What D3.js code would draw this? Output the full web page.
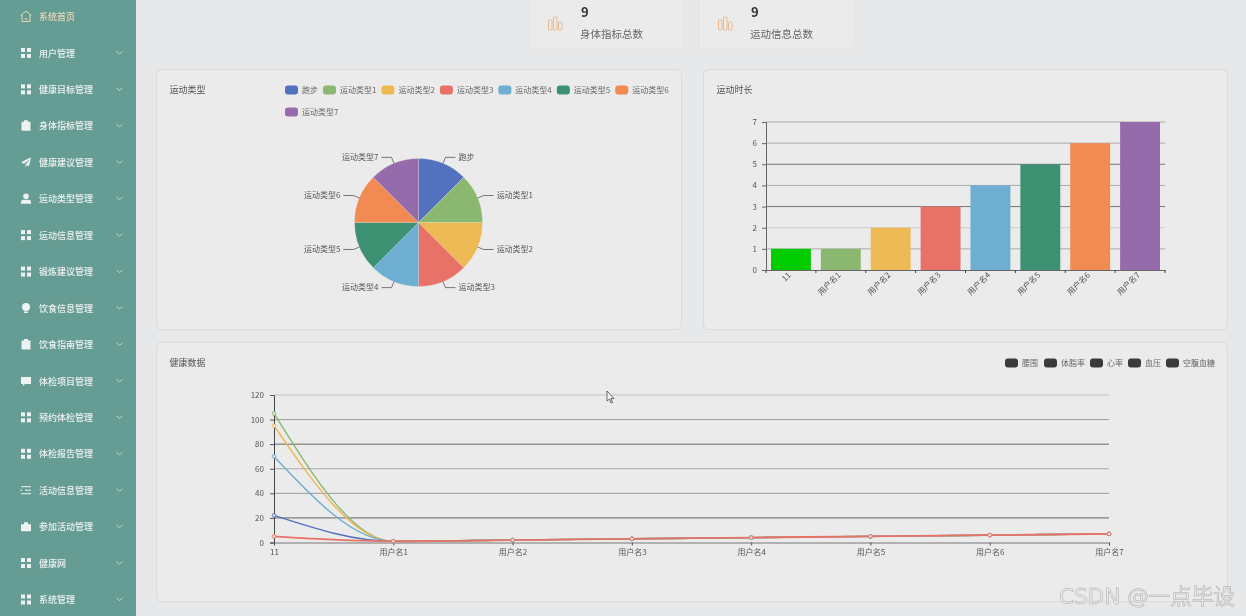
<!DOCTYPE html>
<html>
<head>
<meta charset="utf-8">
<script src="https://cdn.jsdelivr.net/npm/d3@7"></script>
<style>
  html, body { margin: 0; padding: 0; background: #e7e8ea; overflow: hidden; }
  svg { display: block; font-family: "Noto Sans CJK SC", "Noto Sans", sans-serif; filter: blur(0.4px); }
</style>
</head>
<body>
<div id="chart"></div>
<script>
// sidebar
const menuItems = ["系统首页","用户管理","健康目标管理","身体指标管理","健康建议管理","运动类型管理","运动信息管理","锻炼建议管理","饮食信息管理","饮食指南管理","体检项目管理","预约体检管理","体检报告管理","活动信息管理","参加活动管理","健康网","系统管理"];
const menuIcons = ["home","grid","grid","clip","plane","user","grid","grid","bulb","clip","chat","grid","grid","list","case","grid","grid"];

// stat cards
const statLabels = ["身体指标总数","运动信息总数"];
const statValues = [9, 9];

// pie
const pieNames = ["跑步","运动类型1","运动类型2","运动类型3","运动类型4","运动类型5","运动类型6","运动类型7"];
const pieValues = [1,1,1,1,1,1,1,1];
const palette = ["#5272bf","#8bb871","#edb955","#e87268","#6daed1","#3b9171","#f28a53","#966bab"];

// bar
const barNames = ["11","用户名1","用户名2","用户名3","用户名4","用户名5","用户名6","用户名7"];
const barValues = [1,1,2,3,4,5,6,7];
const barColors = ["#00cc00"].concat(palette.slice(1));
const barTicks = [0,1,2,3,4,5,6,7];

// line
const lineLegend = ["腰围","体脂率","心率","血压","空腹血糖"];
const waist = [22,1,2,3,4,5,6,7];
const bodyFat = [105,1,2,3,4,5,6,7];
const heartRate = [95,1,2,3,4,5,6,7];
const bloodPressure = [5,1,2,3,4,5,6,7];
const fastingGlucose = [70,1,2,3,4,5,6,7];
const lineTicks = [0,20,40,60,80,100,120];

const W = 1246, H = 616;
const svg = d3.select("#chart").append("svg").attr("width", W).attr("height", H);
svg.append("rect").attr("width", W).attr("height", H).attr("fill", "#e7e8ea");

const cardFill = "#ebebeb", cardLine = "#d9dadb", textCol = "#555";

// ---- sidebar ----
const side = svg.append("g");
side.append("rect").attr("width", 136).attr("height", H).attr("fill", "#659c94");
const menuY = d3.scalePoint().domain(menuItems).range([16.5, 599.5]);

function drawIcon(g, kind, col) {
  if (kind === "grid") {
    [[-5,-5],[1,-5],[-5,1],[1,1]].forEach(p => g.append("rect").attr("x", p[0]).attr("y", p[1]).attr("width", 4).attr("height", 4).attr("fill", col));
  } else if (kind === "home") {
    g.append("path").attr("d", "M-5.5,-1 L0,-5.5 L5.5,-1 M-4,-2 V5 H4 V-2 M-1.5,2.5 H1.5").attr("fill", "none").attr("stroke", col).attr("stroke-width", 1);
  } else if (kind === "clip") {
    g.append("path").attr("d", "M-4.5,-4 H-2 V-5.5 H2 V-4 H4.5 V5 H-4.5 Z").attr("fill", col);
  } else if (kind === "plane") {
    g.append("path").attr("d", "M5,-5 L-5,0 L-2,1.5 L4,-3 L-0.5,2.5 L-0.5,5 L1,3 L3,4 Z").attr("fill", col);
  } else if (kind === "user") {
    g.append("circle").attr("cy", -2.5).attr("r", 2.8).attr("fill", col);
    g.append("path").attr("d", "M-5,5 V3 Q-5,1 -2,1 H2 Q5,1 5,3 V5 Z").attr("fill", col);
  } else if (kind === "bulb") {
    g.append("circle").attr("cy", -1).attr("r", 4).attr("fill", col);
    g.append("rect").attr("x", -2).attr("y", 3.5).attr("width", 4).attr("height", 1.5).attr("fill", col);
  } else if (kind === "chat") {
    g.append("path").attr("d", "M-5,-4 H5 V3 H-1 L-3,5 V3 H-5 Z").attr("fill", col);
  } else if (kind === "list") {
    g.append("path").attr("d", "M-5,-3.5 H5 M-1,0 H5 M-5,3.5 H5 M-5,-1 V1").attr("fill", "none").attr("stroke", col).attr("stroke-width", 1);
  } else if (kind === "case") {
    g.append("path").attr("d", "M-5,-2.5 H-2 V-4.5 H2 V-2.5 H5 V4.5 H-5 Z").attr("fill", col);
  }
}

menuItems.forEach((name, i) => {
  const y = menuY(name);
  const col = i === 0 ? "#e9d8b4" : "#eef2f0";
  const g = side.append("g").attr("transform", `translate(26,${y})`);
  drawIcon(g, menuIcons[i], col);
  side.append("text").attr("x", 39).attr("y", y + 0.5).attr("dy", "0.35em")
    .attr("font-size", 9).attr("font-weight", 500).attr("fill", col).text(name);
  if (i > 0) {
    side.append("path").attr("d", `M116.5,${y-1.5} L119.5,${y+1} L122.5,${y-1.5}`)
      .attr("fill", "none").attr("stroke", "#d5e4e0").attr("stroke-width", 0.8);
  }
});

// ---- stat cards ----
const statX = [529, 699];
statLabels.forEach((label, i) => {
  const x = statX[i];
  svg.append("rect").attr("x", x).attr("y", -6).attr("width", 155).attr("height", 55)
    .attr("rx", 2).attr("fill", cardFill).attr("stroke", "#e2e3e4");
  [[19.5,10],[24.5,13],[29.5,8]].forEach(b => {
    svg.append("rect").attr("x", x + b[0]).attr("y", 30 - b[1]).attr("width", 3.5).attr("height", b[1])
      .attr("rx", 1).attr("fill", "none").attr("stroke", "#e8b98e");
  });
  svg.append("text").attr("x", x + 52).attr("y", 12).attr("dy", "0.35em").attr("font-size", 13)
    .attr("font-weight", 700).attr("fill", "#333").text(statValues[i]);
  svg.append("text").attr("x", x + 51).attr("y", 34).attr("dy", "0.35em").attr("font-size", 10.5)
    .attr("fill", "#666").text(label);
});

// ---- cards ----
function card(x, y, w, h, title) {
  svg.append("rect").attr("x", x + 0.5).attr("y", y + 0.5).attr("width", w).attr("height", h)
    .attr("rx", 5).attr("fill", cardFill).attr("stroke", cardLine);
  svg.append("text").attr("x", x + 13.5).attr("y", y + 21).attr("dy", "0.35em")
    .attr("font-size", 9).attr("fill", textCol).text(title);
}
card(156, 69, 525, 260, "运动类型");
card(703, 69, 524, 260, "运动时长");
card(156, 342, 1071, 259, "健康数据");

function legendItem(g, x, y, name, col) {
  g.append("rect").attr("x", x).attr("y", y - 4.5).attr("width", 13).attr("height", 9).attr("rx", 3).attr("fill", col);
  const t = g.append("text").attr("x", x + 17).attr("y", y).attr("dy", "0.35em")
    .attr("font-size", 8).attr("fill", "#666").text(name);
  return t.node().getComputedTextLength();
}

// ---- pie ----
const pieG = svg.append("g");
const pieCx = 418.5, pieCy = 222.5, pieR = 64;
const pieArcs = d3.pie().sort(null)(pieValues);
const arc = d3.arc().innerRadius(0).outerRadius(pieR);
const edgeArc = d3.arc().innerRadius(pieR).outerRadius(pieR);
const outArc = d3.arc().innerRadius(pieR + 6.5).outerRadius(pieR + 6.5);
const pieRoot = pieG.append("g").attr("transform", `translate(${pieCx},${pieCy})`);
pieRoot.selectAll("path.slice").data(pieArcs).join("path").attr("class", "slice")
  .attr("d", arc).attr("fill", (d, i) => palette[i]).attr("stroke", "#ebebeb").attr("stroke-width", 0.2);
pieArcs.forEach((d, i) => {
  const a = edgeArc.centroid(d), b = outArc.centroid(d);
  const right = (d.startAngle + d.endAngle) / 2 < Math.PI;
  const endX = b[0] + (right ? 10 : -10);
  pieRoot.append("path").attr("d", `M${a[0]},${a[1]} L${b[0]},${b[1]} L${endX},${b[1]}`)
    .attr("fill", "none").attr("stroke", "#444").attr("stroke-width", 0.7);
  pieRoot.append("text").attr("x", endX + (right ? 3 : -3)).attr("y", b[1]).attr("dy", "0.35em")
    .attr("text-anchor", right ? "start" : "end").attr("font-size", 8).attr("fill", "#555").text(pieNames[i]);
});
// pie legend flows and wraps like the original
let legX = 285, legY = 90;
pieNames.forEach((name, i) => {
  if (legX + 50 > 670) { legX = 285; legY += 22; }
  legX += 17 + legendItem(pieG, legX, legY, name, palette[i]) + 5;
});

// ---- bar ----
const barG = svg.append("g");
const barX = d3.scaleBand().domain(barNames).range([766, 1165]).paddingInner(0.2).paddingOuter(0.1);
const barY = d3.scaleLinear().domain([0, 7]).range([270, 122]);
const barShade = ["#888","#aaa","#ccc","#777","#aaa","#777","#aaa","#aaa"];
barG.selectAll("line.grid").data(barTicks.slice(1)).join("line").attr("class", "grid")
  .attr("x1", 766).attr("x2", 1165).attr("y1", d => barY(d)).attr("y2", d => barY(d))
  .attr("stroke", d => barShade[d]).attr("stroke-width", 1);
barG.selectAll("rect.bar").data(barValues).join("rect").attr("class", "bar")
  .attr("x", (d, i) => barX(barNames[i])).attr("width", barX.bandwidth())
  .attr("y", d => barY(d)).attr("height", d => barY(0) - barY(d))
  .attr("fill", (d, i) => barColors[i]);
const barYAxis = barG.append("g").attr("transform", "translate(766,0)")
  .call(d3.axisLeft(barY).tickValues(barTicks).tickFormat(d3.format("d")).tickSize(4).tickPadding(5));
const barXAxis = barG.append("g").attr("transform", "translate(0,270)")
  .call(d3.axisBottom(barX).tickSize(0).tickPadding(3));
barXAxis.selectAll("text").attr("text-anchor", "end").attr("dx", "-0.1em").attr("dy", "0.7em")
  .attr("transform", "translate(-5,-1) rotate(-45)");
barXAxis.selectAll("line.edge").data(d3.range(barNames.length + 1)).join("line").attr("class", "edge")
  .attr("x1", i => barX.range()[0] + i * barX.step()).attr("x2", i => barX.range()[0] + i * barX.step())
  .attr("y1", 0).attr("y2", 3).attr("stroke", "#444");
[barYAxis, barXAxis].forEach(a => {
  a.attr("font-family", null);
  a.selectAll("text").attr("font-size", 8).attr("fill", "#555");
  a.select(".domain").attr("stroke", "#666");
  a.selectAll(".tick line").attr("stroke", "#666");
});

// ---- line ----
const lineG = svg.append("g");
const lineX = d3.scalePoint().domain(barNames).range([274, 1109]);
const lineY = d3.scaleLinear().domain([0, 120]).range([542.5, 395]);
const lineShade = {20: "#666", 40: "#999", 60: "#aaa", 80: "#666", 100: "#999", 120: "#c4c4c4"};
lineG.selectAll("line.grid").data(lineTicks.slice(1)).join("line").attr("class", "grid")
  .attr("x1", 274).attr("x2", 1109).attr("y1", d => lineY(d)).attr("y2", d => lineY(d))
  .attr("stroke", d => lineShade[d]).attr("stroke-width", 1);
const lineYAxis = lineG.append("g").attr("transform", "translate(274,0)")
  .call(d3.axisLeft(lineY).tickValues(lineTicks).tickSize(4).tickPadding(6));
const lineXAxis = lineG.append("g").attr("transform", "translate(0,542.5)")
  .call(d3.axisBottom(lineX).tickSize(3).tickPadding(4));
[lineYAxis, lineXAxis].forEach(a => {
  a.attr("font-family", null);
  a.selectAll("text").attr("font-size", 8).attr("fill", "#555");
  a.selectAll(".tick line").attr("stroke", "#555");
});
lineYAxis.select(".domain").attr("stroke", "#444");
lineXAxis.select(".domain").attr("stroke", "#777");

// red goes last, it sits on top of the others in the reference
const lineSeries = [[waist, palette[0]], [bodyFat, palette[1]], [heartRate, palette[2]], [fastingGlucose, palette[4]], [bloodPressure, palette[3]]];
const lineGen = d3.line().x((d, i) => lineX(barNames[i])).y(d => lineY(d)).curve(d3.curveMonotoneX);
lineSeries.forEach(s => {
  lineG.append("path").attr("d", lineGen(s[0])).attr("fill", "none").attr("stroke", s[1])
    .attr("stroke-width", s[0] === bloodPressure ? 1.8 : 1.4);
  lineG.selectAll(null).data(s[0]).join("circle")
    .attr("cx", (d, i) => lineX(barNames[i])).attr("cy", d => lineY(d)).attr("r", 1.8)
    .attr("fill", "#ebebeb").attr("stroke", s[1]).attr("stroke-width", 1);
});
// line legend has no colours in the reference, all dark swatches
const lineLegX = [1005, 1044, 1090, 1128, 1166];
lineLegend.forEach((name, i) => legendItem(lineG, lineLegX[i], 363, name, "#3a3a3a"));

// ---- cursor + watermark ----
svg.append("path").attr("d", "M607,391 L607,401 L609.5,399 L611,403 L612.5,402.5 L611,398.5 L614,398.5 Z")
  .attr("fill", "#f4f4f4").attr("stroke", "#333").attr("stroke-width", 0.7);
svg.append("text").attr("x", 1059).attr("y", 604).attr("font-size", 21.5)
  .attr("font-family", "'DejaVu Sans', 'Noto Sans CJK SC', sans-serif")
  .attr("fill", "#ececec").attr("stroke", "#a8a8a8").attr("stroke-width", 0.5).text("CSDN @一点毕设");
</script>
</body>
</html>
